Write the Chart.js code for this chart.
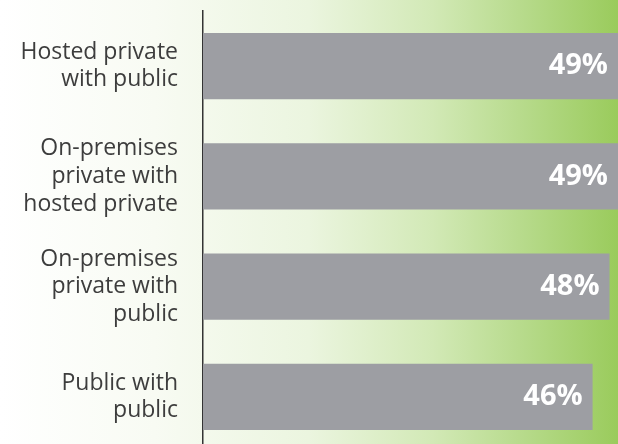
<!DOCTYPE html>
<html>
<head>
<meta charset="utf-8">
<script src="https://cdn.jsdelivr.net/npm/chart.js@4"></script>
<style>
  html, body { margin: 0; padding: 0; overflow: hidden; }
  body {
    width: 618px; height: 444px;
    background: linear-gradient(to right, #ffffff 0%, #f8fbf3 25%, #ebf5df 50%, #d2e9b6 70%, #b6da8a 85%, #9acb5c 100%);
  }
  #wrap { position: relative; width: 618px; height: 452px; }
</style>
</head>
<body>
<div id="wrap"><canvas id="barChart"></canvas></div>
<script>
// categories and values
var categories = [
  ["Hosted private", "with public"],
  ["On-premises", "private with", "hosted private"],
  ["On-premises", "private with", "public"],
  ["Public with", "public"]
];
var values = [49, 49, 48, 46];

// value labels at the end of each bar
var valueLabels = {
  id: 'valueLabels',
  afterDatasetsDraw: function(chart) {
    var ctx = chart.ctx;
    ctx.save();
    ctx.font = 'bold 29px "Open Sans"';
    ctx.fillStyle = '#ffffff';
    ctx.textAlign = 'right';
    ctx.textBaseline = 'middle';
    chart.getDatasetMeta(0).data.forEach(function(bar, i) {
      var x = Math.min(bar.x, chart.chartArea.right) - 10;
      ctx.fillText(values[i] + '%', x, bar.y);
    });
    ctx.restore();
  }
};

var ctx = document.getElementById("barChart").getContext('2d');
var myBarChart = new Chart(ctx, {
  type: 'bar',
  data: {
    labels: categories,
    datasets: [{
      data: values,
      backgroundColor: '#9d9ea3',
      borderWidth: 0,
      barPercentage: 0.6,
      categoryPercentage: 1.0
    }]
  },
  options: {
    indexAxis: 'y',
    responsive: true,
    maintainAspectRatio: false,
    animation: false,
    layout: { padding: { top: 11, right: 0, bottom: 0, left: 0 } },
    plugins: {
      legend: { display: false },
      tooltip: { enabled: false }
    },
    scales: {
      x: {
        display: false,
        min: 0,
        max: 49
      },
      y: {
        afterFit: function(scale) {
          scale.width = 203;
          scale.paddingTop = 0;
          scale.paddingBottom = 0;
        },
        grid: { display: true, color: 'transparent', drawTicks: false },
        border: { display: true, color: '#333333', width: 1.5 },
        ticks: {
          padding: 25,
          color: '#3d3d3d',
          font: { family: '"Open Sans"', size: 23, lineHeight: 1.2 }
        }
      }
    }
  },
  plugins: [valueLabels]
});
</script>
</body>
</html>
